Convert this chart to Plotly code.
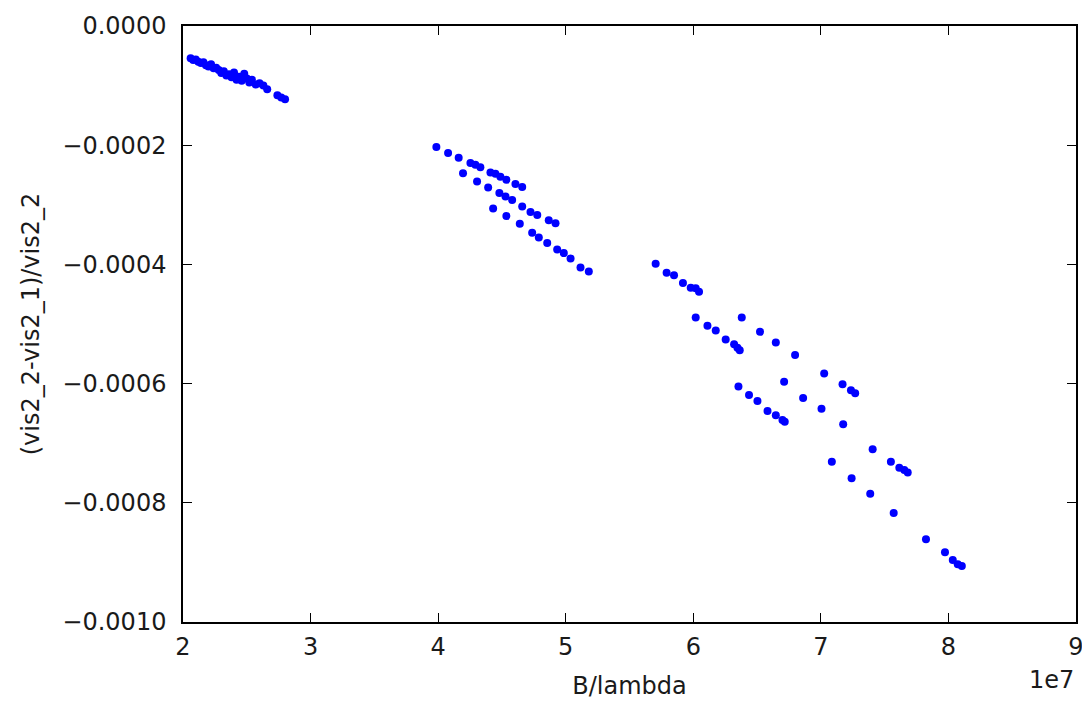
import plotly.graph_objects as go

# B/lambda in units of 1e7, y = (vis2_2 - vis2_1)/vis2_2
g1_x = [2.06, 2.08, 2.10, 2.12, 2.14, 2.16, 2.18, 2.20, 2.22, 2.24, 2.26, 2.28, 2.30, 2.32,
        2.34, 2.36, 2.38, 2.40, 2.42, 2.44, 2.46, 2.48, 2.50, 2.52, 2.54, 2.57, 2.60, 2.63,
        2.66, 2.74, 2.77, 2.80]
g1_y = [-0.000054, -0.000057, -0.000056, -0.000060, -0.000062, -0.000061, -0.000066, -0.000068,
        -0.000064, -0.000071, -0.000070, -0.000074, -0.000079, -0.000076, -0.000083, -0.000081,
        -0.000086, -0.000078, -0.000090, -0.000085, -0.000092, -0.000080, -0.000088, -0.000095,
        -0.000090, -0.000098, -0.000096, -0.000100, -0.000106, -0.000116, -0.000120, -0.000123]

g2_x = [3.986, 4.078, 4.161, 4.253, 4.292, 4.331, 4.410, 4.449, 4.488, 4.535, 4.606, 4.659,
        4.195, 4.305, 4.392, 4.480, 4.528, 4.580, 4.659, 4.724, 4.777, 4.867, 4.920,
        4.431, 4.535, 4.640, 4.737, 4.789, 4.855, 4.933, 4.985, 5.038, 5.116, 5.181]
g2_y = [-0.000203, -0.000213, -0.000221, -0.000230, -0.000233, -0.000237, -0.000246, -0.000248,
        -0.000253, -0.000258, -0.000265, -0.000270,
        -0.000247, -0.000261, -0.000271, -0.000280, -0.000286, -0.000292, -0.000303, -0.000312,
        -0.000317, -0.000326, -0.000331,
        -0.000306, -0.000319, -0.000332, -0.000347, -0.000355, -0.000364, -0.000375, -0.000381,
        -0.000390, -0.000405, -0.000412]

g3_x = [5.705, 5.791, 5.849, 5.919, 5.980, 6.019, 6.045,
        6.019, 6.111, 6.176, 6.254, 6.320, 6.346, 6.364,
        6.354, 6.437, 6.503, 6.582, 6.647, 6.699, 6.717,
        6.380, 6.523, 6.647, 6.798, 7.026, 7.170, 7.236, 7.269,
        6.712, 6.861, 7.005, 7.175,
        7.406, 7.549, 7.615, 7.654, 7.681,
        7.086, 7.241, 7.387, 7.571, 7.824, 7.973, 8.034, 8.073, 8.105]
g3_y = [-0.000399, -0.000414, -0.000418, -0.000431, -0.000439, -0.000440, -0.000446,
        -0.000489, -0.000503, -0.000511, -0.000526, -0.000534, -0.000540, -0.000544,
        -0.000605, -0.000619, -0.000629, -0.000646, -0.000653, -0.000661, -0.000664,
        -0.000489, -0.000513, -0.000531, -0.000552, -0.000583, -0.000601, -0.000611, -0.000616,
        -0.000597, -0.000624, -0.000642, -0.000668,
        -0.000710, -0.000731, -0.000741, -0.000745, -0.000749,
        -0.000731, -0.000759, -0.000785, -0.000817, -0.000861, -0.000883, -0.000896, -0.000903,
        -0.000906]

x_ticks = [2, 3, 4, 5, 6, 7, 8, 9]
y_ticks = [0.0, -0.0002, -0.0004, -0.0006, -0.0008, -0.0010]

x_all = g1_x + g2_x + g3_x
y_all = g1_y + g2_y + g3_y

font = "DejaVu Sans, sans-serif"
FS = 24
TXT = "#1a1a1a"
fig = go.Figure()
fig.add_trace(go.Scatter(
    x=x_all, y=y_all, mode="markers",
    marker=dict(color="#0000ff", size=8, line=dict(width=0)),
    showlegend=False,
))

axis_common = dict(
    showgrid=False, zeroline=False, showline=True, linecolor="black", linewidth=1.5,
    mirror="ticks", ticks="inside", ticklen=9, tickwidth=1, tickcolor="black",
    tickfont=dict(family=font, size=FS, color=TXT), automargin=False,
)
fig.update_xaxes(range=[2, 9], tickvals=x_ticks, ticktext=[str(t) for t in x_ticks],
                 ticklabelstandoff=2,
                 title=dict(text="B/lambda", font=dict(family=font, size=FS, color=TXT),
                            standoff=18),
                 **axis_common)
fig.update_yaxes(range=[-0.0010, 0.0], tickvals=y_ticks, tickformat=".4f",
                 ticklabelstandoff=10,
                 title=dict(text="(vis2_2-vis2_1)/vis2_2",
                            font=dict(family=font, size=FS, color=TXT), standoff=16),
                 **axis_common)

fig.add_annotation(text="1e7", xref="paper", yref="paper", x=1.0, y=-0.07,
                   xanchor="right", yanchor="top", showarrow=False,
                   font=dict(family=font, size=FS, color=TXT))

fig.update_layout(
    width=1082, height=694,
    margin=dict(l=175, r=14, t=18, b=80, autoexpand=False),
    plot_bgcolor="white", paper_bgcolor="white",
)
fig.write_html("out.html")
